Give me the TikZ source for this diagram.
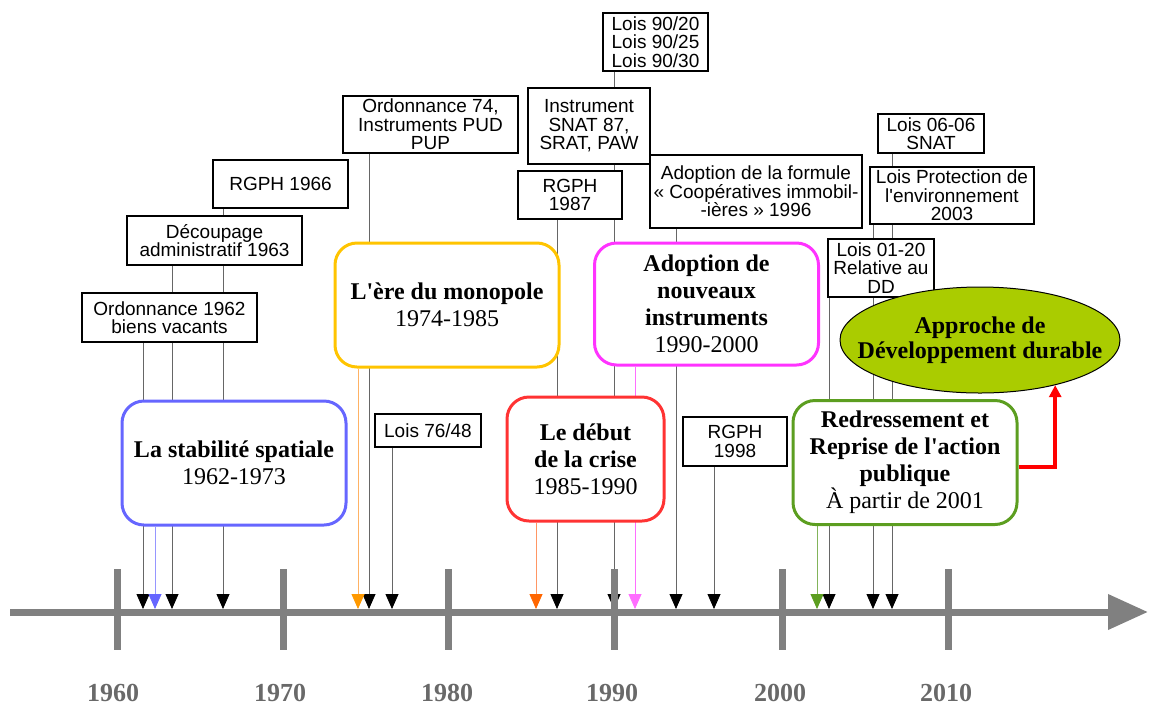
\documentclass[tikz,border=0pt]{standalone}
\usepackage{fontspec}
\setmainfont{Liberation Serif}[Ligatures=TeXOff]
\setsansfont{Liberation Sans}[Ligatures=TeXOff]
\usetikzlibrary{arrows.meta,shapes.geometric,backgrounds}
\definecolor{axisgray}{RGB}{128,128,128}
\definecolor{yeargray}{RGB}{105,105,105}
\definecolor{stabblue}{RGB}{102,102,255}
\definecolor{stabline}{RGB}{150,150,255}
\definecolor{monogold}{RGB}{255,196,0}
\definecolor{monoline}{RGB}{255,178,100}
\definecolor{monohead}{RGB}{255,153,0}
\definecolor{crisered}{RGB}{255,51,51}
\definecolor{criseline}{RGB}{255,150,100}
\definecolor{crisehead}{RGB}{255,102,0}
\definecolor{adopmag}{RGB}{255,51,255}
\definecolor{adopline}{RGB}{255,110,255}
\definecolor{redrgreen}{RGB}{92,158,32}
\definecolor{redrline}{RGB}{130,180,90}
\definecolor{approgreen}{RGB}{170,204,0}
\begin{document}
\begin{tikzpicture}[x=1pt,y=-1pt,
    event/.style={draw, fill=white, line width=1.2pt, align=center, inner sep=1pt,
      font=\sffamily\fontsize{19}{18.5}\selectfont},
    period/.style={draw=#1, fill=white, line width=3pt, rounded corners=22pt, align=center,
      minimum width=224pt, minimum height=124pt, font=\fontsize{24}{27}\selectfont},
    link/.style 2 args={draw=#1, line width=0.8pt,
      -{Triangle[width=13pt,length=15pt,color=#2,fill=#2]}},
    tick/.style={draw=axisgray, line width=7pt},
    year/.style={font=\bfseries\fontsize{26}{26}\selectfont, text=yeargray}]
  \useasboundingbox (0,0) rectangle (1151,705);

  \node[event, minimum width=175pt, minimum height=49pt] (o62) at (169.5,317.5) {Ordonnance 1962\\biens vacants};
  \node[event, minimum width=175pt, minimum height=49pt] (dec63) at (214.5,240.5) {Découpage\\administratif 1963};
  \node[event, minimum width=135pt, minimum height=48pt] (rg66) at (280.5,184) {RGPH 1966};
  \node[event, minimum width=175pt, minimum height=57pt] (o74) at (430.5,124.5) {Ordonnance 74,\\Instruments PUD\\PUP};
  \node[event, minimum width=106pt, minimum height=33pt] (l76) at (428,430.5) {Lois 76/48};
  \node[event, minimum width=105pt, minimum height=58pt] (l90) at (655.5,42) {Lois 90/20\\Lois 90/25\\Lois 90/30};
  \node[event, minimum width=122pt, minimum height=76pt] (snat) at (589,126) {Instrument\\SNAT 87,\\SRAT, PAW};
  \node[event, minimum width=104pt, minimum height=48pt] (rg87) at (570,195) {RGPH\\1987};
  \node[event, minimum width=212pt, minimum height=73pt] (coop) at (756,191.5) {Adoption de la formule\\« Coopératives immobil-\\-ières » 1996};
  \node[event, minimum width=104pt, minimum height=49pt] (rg98) at (735,441.5) {RGPH\\1998};
  \node[event, minimum width=106pt, minimum height=39pt] (l06) at (931,133.5) {Lois 06-06\\SNAT};
  \node[event, minimum width=164pt, minimum height=57pt] (lpe) at (952,195.5) {Lois Protection de\\l'environnement\\2003};
  \node[event, minimum width=106pt, minimum height=58pt] (l01) at (881,268) {Lois 01-20\\Relative au\\DD};

  \node[period=stabblue] (stab) at (234,463) {\textbf{La stabilité spatiale}\\1962-1973};
  \node[period=monogold] (mono) at (447,305) {\textbf{L'ère du monopole}\\1974-1985};
  \node[period=crisered, minimum width=157pt] (crise) at (585.5,459) {\textbf{Le début}\\\textbf{de la crise}\\1985-1990};
  \node[period=adopmag, minimum height=122pt] (adop) at (706.5,304) {\textbf{Adoption de}\\\textbf{nouveaux}\\\textbf{instruments}\\1990-2000};
  \node[period=redrgreen] (redr) at (905,462.5) {\textbf{Redressement et}\\\textbf{Reprise de l'action}\\\textbf{publique}\\À partir de 2001};

  \node[ellipse, draw, line width=1pt, fill=approgreen, minimum width=280pt, minimum height=106pt] (appr) at (980,340) {};
  \node[align=center, font=\bfseries\fontsize{24}{25}\selectfont] (apprt) at (appr) {Approche de\\Développement durable};

  \coordinate (a62) at (143,609);
  \coordinate (s62) at (155,609);
  \coordinate (a63) at (172,609);
  \coordinate (a66) at (223,609);
  \coordinate (s74) at (358,609);
  \coordinate (a74) at (369,609);
  \coordinate (a76) at (392,609);
  \coordinate (s85) at (536,609);
  \coordinate (a87) at (557,609);
  \coordinate (a90) at (614,609);
  \coordinate (s90) at (635,609);
  \coordinate (a96) at (676,609);
  \coordinate (a98) at (714,609);
  \coordinate (s01) at (817,609);
  \coordinate (a01) at (829,609);
  \coordinate (a03) at (873,609);
  \coordinate (a06) at (892,609);

  \begin{scope}[on background layer]
    \draw[link={black!60}{black}] (o62.south -| a62) -- (a62);
    \draw[link={black!60}{black}] (dec63.south -| a63) -- (a63);
    \draw[link={black!60}{black}] (rg66.south -| a66) -- (a66);
    \draw[link={black!60}{black}] (o74.south -| a74) -- (a74);
    \draw[link={black!60}{black}] (l76.south -| a76) -- (a76);
    \draw[link={black!60}{black}] (rg87.south -| a87) -- (a87);
    \draw[link={black!60}{black}] (l90.south -| a90) -- (a90);
    \draw[link={black!60}{black}] (coop.south -| a96) -- (a96);
    \draw[link={black!60}{black}] (rg98.south -| a98) -- (a98);
    \draw[link={black!60}{black}] (l01.south -| a01) -- (a01);
    \draw[link={black!60}{black}] (lpe.south -| a03) -- (a03);
    \draw[link={black!60}{black}] (l06.south -| a06) -- (a06);
    \draw[link={stabline}{stabblue}] (stab.south -| s62) -- (s62);
    \draw[link={monoline}{monohead}] (mono.south -| s74) -- (s74);
    \draw[link={criseline}{crisehead}] (crise.south -| s85) -- (s85);
    \draw[link={adopline}{adopline}] (adop.south -| s90) -- (s90);
    \draw[link={redrline}{redrgreen}] (redr.south -| s01) -- (s01);
  \end{scope}

  \draw[red, line width=4pt, -{Triangle[width=12pt,length=12pt]}] ([yshift=-4pt]redr.east) -| (appr.329);

  \coordinate (ax0) at (10,612);
  \coordinate (ax1) at (1148,612);
  \draw[draw=axisgray, line width=7pt, -{Triangle[width=34pt,length=40pt,color=axisgray,fill=axisgray]}] (ax0) -- (ax1);
  \draw[tick] (117,569) -- (117,650);
  \draw[tick] (283,569) -- (283,650);
  \draw[tick] (448,569) -- (448,650);
  \draw[tick] (614,569) -- (614,650);
  \draw[tick] (782,569) -- (782,650);
  \draw[tick] (948,569) -- (948,650);
  \node[year] (y1960) at (113,693) {1960};
  \node[year] (y1970) at (280,693) {1970};
  \node[year] (y1980) at (447,693) {1980};
  \node[year] (y1990) at (612,693) {1990};
  \node[year] (y2000) at (780,693) {2000};
  \node[year] (y2010) at (946,693) {2010};
\end{tikzpicture}
\end{document}
